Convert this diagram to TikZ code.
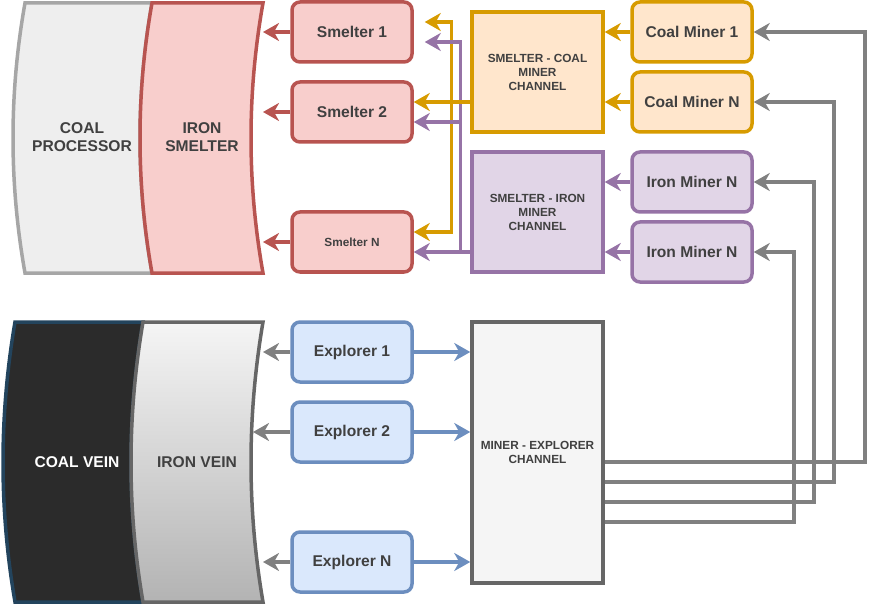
\documentclass[tikz,border=0pt]{standalone}
\usepackage{fontspec}
\setmainfont{Liberation Sans}
\usetikzlibrary{arrows.meta,positioning,calc}
\definecolor{txt}{HTML}{404040}
\definecolor{redfill}{HTML}{F8CECC}
\definecolor{redline}{HTML}{B85450}
\definecolor{orfill}{HTML}{FFE6CC}
\definecolor{orline}{HTML}{D79B00}
\definecolor{pufill}{HTML}{E1D5E7}
\definecolor{puline}{HTML}{9673A6}
\definecolor{blfill}{HTML}{DAE8FC}
\definecolor{blline}{HTML}{6C8EBF}
\definecolor{grfill}{HTML}{F5F5F5}
\definecolor{grline}{HTML}{666666}
\definecolor{conn}{HTML}{808080}
\definecolor{cpfill}{HTML}{EEEEEE}
\definecolor{cpline}{HTML}{A6A6A6}
\definecolor{cvfill}{HTML}{2B2B2B}
\definecolor{cvline}{HTML}{23445D}
\definecolor{ivtop}{HTML}{F5F5F5}
\definecolor{ivbot}{HTML}{B3B3B3}
\tikzset{
  bigfont/.style={font=\fontsize{15.6}{18.7}\selectfont\bfseries},
  smallfont/.style={font=\fontsize{11.8}{14}\selectfont\bfseries},
  rbox/.style={rectangle, rounded corners=8pt, line width=3.5pt, minimum width=120pt, minimum height=60pt, inner sep=0pt, text=txt, bigfont},
  smeltbox/.style={rbox, fill=redfill, draw=redline},
  coalbox/.style={rbox, fill=orfill, draw=orline},
  ironbox/.style={rbox, fill=pufill, draw=puline},
  explbox/.style={rbox, fill=blfill, draw=blline},
  chanbox/.style={rectangle, line width=3.5pt, minimum width=131pt, inner sep=0pt, text=txt, smallfont, align=center},
  tipa/.style={-{Stealth[length=16pt,width=18pt,inset=5pt]}},
  conline/.style={line width=3.5pt, tipa},
}
\begin{document}
\begin{tikzpicture}[x=1pt,y=-1pt]
\useasboundingbox (0,0) rectangle (873,604);

% curved stacks (top)
\filldraw[fill=cpfill, draw=cpline, line width=3.5pt]
  (25,3) -- (152,3) .. controls (136,93) and (136,183) .. (152,273)
  -- (25,273) .. controls (9,183) and (9,93) .. (25,3) -- cycle;
\filldraw[fill=redfill, draw=redline, line width=3.5pt]
  (152,3) -- (263,3) .. controls (247,93) and (247,183) .. (263,273)
  -- (152,273) .. controls (136,183) and (136,93) .. (152,3) -- cycle;
\node[bigfont, text=txt, align=center] (cp) at (82,137) {COAL\\PROCESSOR};
\node[bigfont, text=txt, align=center] (is) at (202,137) {IRON\\SMELTER};

% curved stacks (bottom)
\filldraw[fill=cvfill, draw=cvline, line width=3.5pt]
  (15,322) -- (143,322) .. controls (127,416) and (127,509) .. (143,602)
  -- (15,602) .. controls (-1,509) and (-1,416) .. (15,322) -- cycle;
\shadedraw[top color=ivtop, bottom color=ivbot, draw=grline, line width=3.5pt]
  (143,322) -- (263,322) .. controls (247,416) and (247,509) .. (263,602)
  -- (143,602) .. controls (127,509) and (127,416) .. (143,322) -- cycle;
\node[bigfont, text=white] (cv) at (77,462) {COAL VEIN};
\node[bigfont, text=txt] (iv) at (197,462) {IRON VEIN};

% smelters
\node[smeltbox] (s1) at (352,32) {Smelter 1};
\node[smeltbox] (s2) at (352,112) {Smelter 2};
\node[smeltbox, smallfont] (sN) at (352,242) {Smelter N};

% channels
\node[chanbox, fill=orfill, draw=orline, minimum height=120pt] (cc) at (537.5,72) {SMELTER - COAL\\MINER\\CHANNEL};
\node[chanbox, fill=pufill, draw=puline, minimum height=120pt] (ic) at (537.5,212) {SMELTER - IRON\\MINER\\CHANNEL};
\node[chanbox, fill=grfill, draw=grline, minimum height=261pt] (mec) at (537.5,452.5) {MINER - EXPLORER\\CHANNEL};

% miners
\node[coalbox] (cm1) at (692,32) {Coal Miner 1};
\node[coalbox] (cmN) at (692,102) {Coal Miner N};
\node[ironbox] (im1) at (692,182) {Iron Miner N};
\node[ironbox] (im2) at (692,252) {Iron Miner N};

% explorers
\node[explbox] (e1) at (352,352) {Explorer 1};
\node[explbox] (e2) at (352,432) {Explorer 2};
\node[explbox] (eN) at (352,562) {Explorer N};

% free ends on the curved shapes
\coordinate (is1) at (263,32);
\coordinate (is2) at (263,112);
\coordinate (isN) at (263,242);
\coordinate (iv1) at (263,352);
\coordinate (iv2) at (253,432);
\coordinate (ivN) at (263,562);

% smelters -> iron smelter
\draw[conline, draw=redline] (s1.west) -- (is1);
\draw[conline, draw=redline] (s2.west) -- (is2);
\draw[conline, draw=redline] (sN.west) -- (isN);

% explorers -> iron vein
\draw[conline, draw=conn] (e1.west) -- (iv1);
\draw[conline, draw=conn] (e2.west) -- (iv2);
\draw[conline, draw=conn] (eN.west) -- (ivN);

% explorers -> miner-explorer channel
\draw[conline, draw=blline] (e1.east) -- (mec.west |- e1.east);
\draw[conline, draw=blline] (e2.east) -- (mec.west |- e2.east);
\draw[conline, draw=blline] (eN.east) -- (mec.west |- eN.east);

% miners -> channels
\draw[conline, draw=orline] (cm1.west) -- (cc.east |- cm1.west);
\draw[conline, draw=orline] (cmN.west) -- (cc.east |- cmN.west);
\draw[conline, draw=puline] (im1.west) -- (ic.east |- im1.west);
\draw[conline, draw=puline] (im2.west) -- (ic.east |- im2.west);

% coal channel -> smelters
\draw[conline, draw=orline] ([yshift=-30pt]cc.west) -- ++(-19,0) |- ([xshift=11pt,yshift=10pt]s1.east);
\draw[conline, draw=orline] ([yshift=-30pt]cc.west) -- ++(-19,0) |- ([yshift=10pt]sN.east);
% iron channel -> smelters
\draw[conline, draw=puline] ([yshift=-40pt]ic.west) -- ++(-10,0) |- ([xshift=11pt,yshift=-10pt]s1.east);
\draw[conline, draw=puline] ([yshift=-40pt]ic.west) -- ++(-10,0) |- ([yshift=-10pt]s2.east);
\draw[conline, draw=puline] ([yshift=-40pt]ic.west) -- ([yshift=-10pt]sN.east);
\draw[conline, draw=orline] ([yshift=-30pt]cc.west) -- ([yshift=10pt]s2.east);

% miner-explorer channel -> miners
\draw[conline, draw=conn] ([yshift=-9.5pt]mec.east) -- ++(260,0) |- (cm1.east);
\draw[conline, draw=conn] ([yshift=-29.5pt]mec.east) -- ++(229,0) |- (cmN.east);
\draw[conline, draw=conn] ([yshift=-49.5pt]mec.east) -- ++(209,0) |- (im1.east);
\draw[conline, draw=conn] ([yshift=-69.5pt]mec.east) -- ++(189,0) |- (im2.east);
\end{tikzpicture}
\end{document}
